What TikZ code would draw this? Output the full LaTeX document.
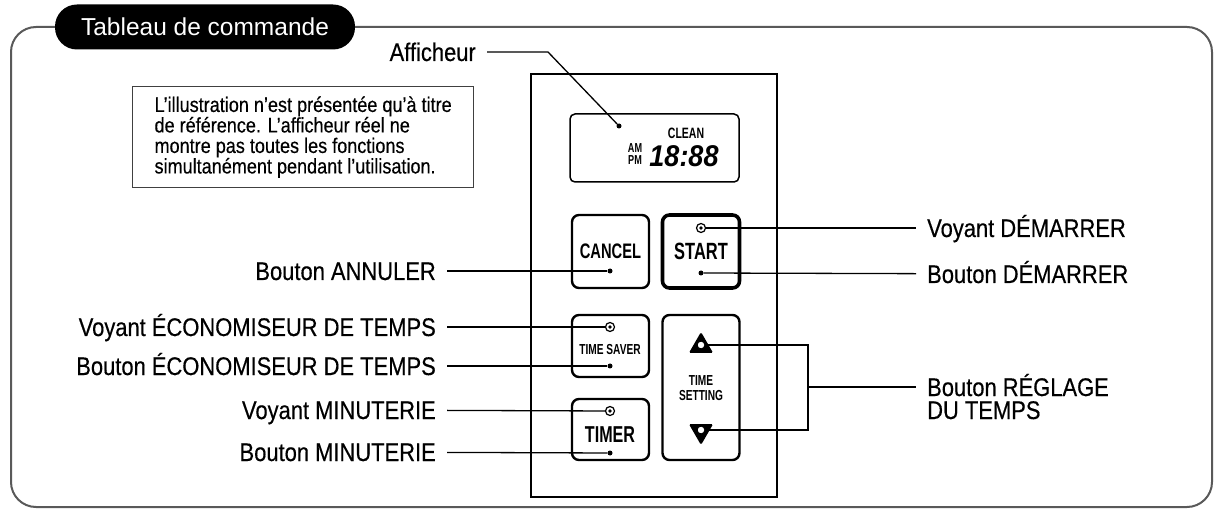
\documentclass[tikz,border=0pt]{standalone}
\usepackage{fontspec}
\setmainfont{Liberation Sans}
\newfontfamily\lblfont[FakeStretch=0.86,FakeBold=0.4]{Liberation Sans}
\newfontfamily\condfont[FakeStretch=0.7]{Liberation Sans}
\newfontfamily\digfont[FakeStretch=0.9]{Liberation Sans}
\usetikzlibrary{shapes.geometric}

\tikzset{
  lbl/.style={font=\lblfont\fontsize{25.5}{27}\selectfont, inner xsep=11pt, inner ysep=0pt,
    text height=18pt, text depth=0pt},
  key/.style={draw, line width=2.4pt, rounded corners=7pt, minimum width=77pt},
  keytext/.style={font=\condfont\bfseries\fontsize{#1}{#1}\selectfont, inner sep=0pt},
  dot/.style={circle, fill, inner sep=0pt, minimum size=5pt},
  lamp/.style={circle, draw, line width=1.2pt, fill=white, inner sep=0pt, minimum size=9pt,
    path picture={\fill[black] (path picture bounding box.center) circle (1.8pt);}},
  trilamp/.style={circle, draw, line width=1.2pt, fill=white, inner sep=0pt, minimum size=8pt},
  arrowkey/.style={regular polygon, regular polygon sides=3, fill, rounded corners=1.5pt,
    inner sep=0pt, minimum size=28pt},
  lead/.style={line width=1.3pt},
}

\begin{document}
\begin{tikzpicture}[x=1pt,y=-1pt]
\useasboundingbox (0,0) rectangle (1223,518);

% frame and title
\node[fill, rounded corners=22pt, text=white, minimum width=300pt, minimum height=45pt,
  font=\fontsize{24.5}{26}\selectfont] (title) at (205,27) {Tableau de commande};
\draw[line width=2pt, black!65, rounded corners=25pt]
  (title.east) -- (1212,27) -- (1212,507) -- (11,507) -- (11,27) -- (title.west);

% note
\node[draw=black!75, line width=1.3pt, anchor=north west, minimum width=341pt,
  minimum height=101pt, align=left, font=\lblfont\fontsize{21}{20.5}\selectfont] (note) at (132,86)
  {L’illustration n’est présentée qu’à titre\\de référence. L’afficheur réel ne\\montre pas toutes les fonctions\\simultanément pendant l’utilisation.};

% panel
\node[draw, line width=2pt, minimum width=246pt, minimum height=423pt] (panel) at (654,285.5) {};
\node[draw, line width=1.5pt, rounded corners=5pt, minimum width=169pt, minimum height=68pt] (disp) at (654.5,148) {};
\node[keytext=15] (clean) at (686,133) {CLEAN};
\node[keytext=13] (am) at (635,148) {AM};
\node[keytext=13] (pm) at (635,160) {PM};
\node[font=\digfont\bfseries\itshape\fontsize{30}{30}\selectfont, inner sep=0pt] (digits) at (684,156) {18:88};
\node[dot] (dispdot) at (619,126) {};

% keys
\node[key, minimum height=73pt] (cancel) at (610.5,251.5) {};
\node[keytext=21] at (610.5,251) {CANCEL};
\node[dot] (canceldot) at (610,271) {};

\node[key, line width=3.6pt, minimum height=73pt] (start) at (701,251.5) {};
\node[keytext=23.5] at (701,251.5) {START};
\node[lamp] (startlamp) at (701,228) {};
\node[dot] (startdot) at (701,273) {};

\node[key, minimum height=62pt] (saver) at (610.5,346) {};
\node[keytext=14.5] at (610,350) {TIME SAVER};
\node[lamp] (saverlamp) at (610,327) {};
\node[dot] (saverdot) at (610,366) {};

\node[key, minimum height=61pt] (timer) at (610.5,429.5) {};
\node[keytext=23] at (610,435) {TIMER};
\node[lamp] (timerlamp) at (610,411) {};
\node[dot] (timerdot) at (610,453) {};

\node[key, minimum height=145pt] (setting) at (701,387.5) {};
\node[keytext=14.5, align=center] at (701,388) {TIME\\SETTING};
\node[arrowkey] (upkey) at (701,346) {};
\node[arrowkey, shape border rotate=180] (downkey) at (701,431) {};

% leaders
\node[lbl, anchor=east] (aff) at (487,52) {Afficheur};
\coordinate (affbend) at (548,52);
\draw[lead] (aff.east) -- (affbend) -- (dispdot);

\node[lbl, anchor=east] (annuler) at (447,271) {Bouton ANNULER};
\node[lbl, anchor=east] (voyeco) at (447,327) {Voyant ÉCONOMISEUR DE TEMPS};
\node[lbl, anchor=east] (boueco) at (447,366) {Bouton ÉCONOMISEUR DE TEMPS};
\node[lbl, anchor=east] (voymin) at (447,410) {Voyant MINUTERIE};
\node[lbl, anchor=east] (boumin) at (447,452) {Bouton MINUTERIE};
\draw[lead] (annuler) -- (canceldot);
\draw[lead] (voyeco) -- (saverlamp);
\draw[lead] (boueco) -- (saverdot);
\draw[lead] (voymin) -- (timerlamp);
\draw[lead] (boumin) -- (timerdot);

\node[lbl, anchor=west] (voystart) at (916,228) {Voyant DÉMARRER};
\node[lbl, anchor=west] (boustart) at (916,274) {Bouton DÉMARRER};
\node[lbl, anchor=west] (reglage) at (916,387) {Bouton RÉGLAGE};
\node[lbl, anchor=west] (reglage2) at (916,410) {DU TEMPS};
\draw[lead] (startlamp) -- (voystart);
\draw[lead] (startdot) -- (boustart);

\coordinate (bend) at (808,387);
\node[trilamp] (uplamp) at (701,345) {};
\node[trilamp] (downlamp) at (701,430) {};
\draw[lead] (uplamp.east) -| (bend) |- (downlamp.east);
\draw[lead] (bend) -- (reglage);
\end{tikzpicture}
\end{document}
